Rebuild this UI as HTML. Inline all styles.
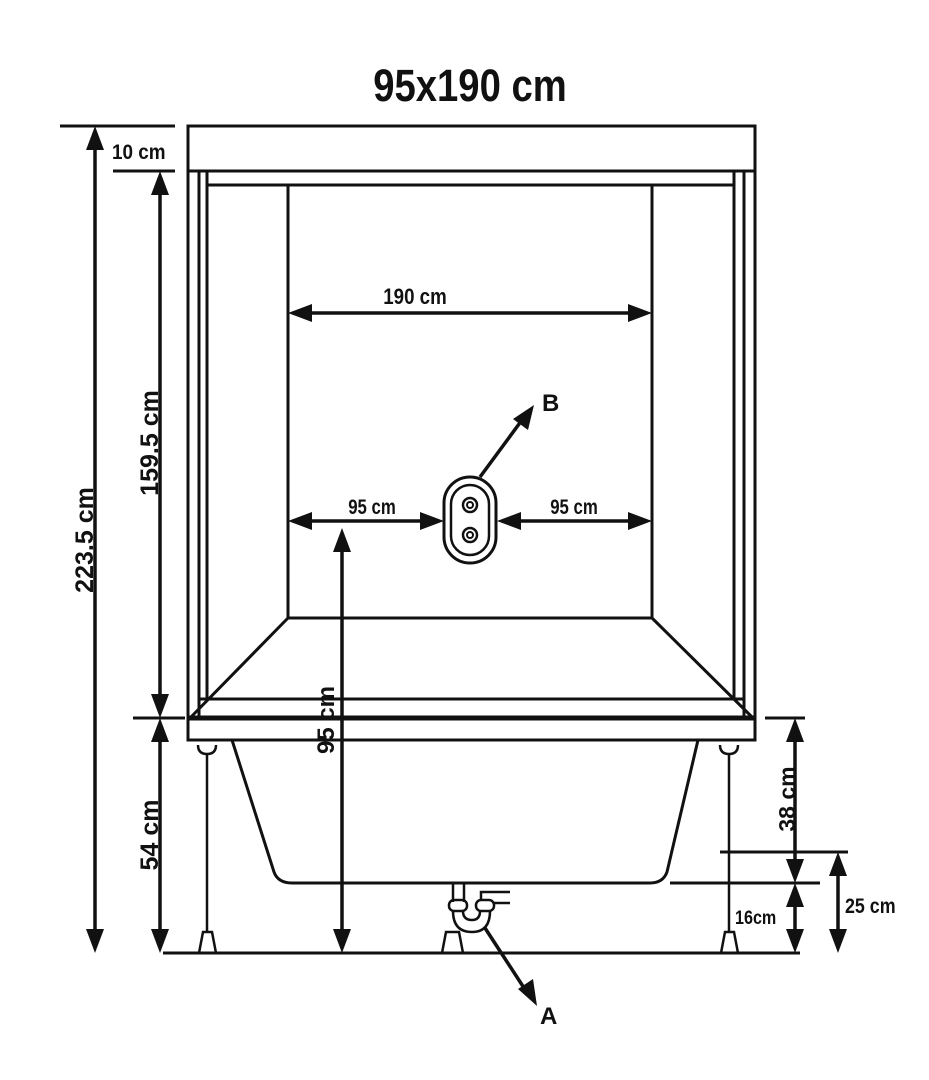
<!DOCTYPE html>
<html><head><meta charset="utf-8"><style>
html,body{margin:0;padding:0;background:#fff;}
svg{display:block;}
text{font-family:"Liberation Sans",sans-serif;font-weight:bold;fill:#111;}
</style></head><body>
<svg width="929" height="1080" viewBox="0 0 929 1080" xmlns="http://www.w3.org/2000/svg">
<g stroke="#111" fill="none" stroke-width="3">
<rect x="188" y="126" width="567" height="614"/>
<line x1="188" y1="171" x2="755" y2="171"/>
<line x1="207" y1="185" x2="734" y2="185"/>
<line x1="199" y1="171" x2="199" y2="718"/>
<line x1="207" y1="171" x2="207" y2="699"/>
<line x1="734" y1="171" x2="734" y2="699"/>
<line x1="744" y1="171" x2="744" y2="718"/>
<line x1="200" y1="699" x2="744" y2="699"/>
<line x1="188" y1="718" x2="755" y2="718" stroke-width="5"/>
<polyline points="288,185 288,618 652,618 652,185"/>
<line x1="288" y1="618" x2="190" y2="718"/>
<line x1="652" y1="618" x2="753" y2="718"/>
<path d="M232,740 L274,872 Q278,883 292,883 L650,883 Q663,883 667,872 L698,740"/>
<path d="M198,745 q0,9 9,9 q9,0 9,-9" stroke-width="2.5"/>
<path d="M720,745 q0,9 9,9 q9,0 9,-9" stroke-width="2.5"/>
<line x1="207" y1="754" x2="207" y2="932" stroke-width="2.5"/>
<line x1="729" y1="754" x2="729" y2="932" stroke-width="2.5"/>
<path d="M199,953 L203,932 L212,932 L216,953" stroke-width="2.5"/>
<path d="M721,953 L725,932 L734,932 L738,953" stroke-width="2.5"/>
<path d="M442,953 L446,932 L459,932 L463,953" stroke-width="2.5"/>
<g stroke-width="2.5">
<line x1="453" y1="883" x2="453" y2="902"/><line x1="464" y1="883" x2="464" y2="902"/>
<rect x="449" y="900" width="18" height="11" rx="5"/>
<rect x="476" y="900" width="18" height="11" rx="5"/>
<path d="M453,911 Q453,932 472,932 Q490,932 490,911"/>
<path d="M463,911 Q463,920 472,920 Q480,920 480,911"/>
<polyline points="481,900 481,892 510,892"/>
<line x1="494" y1="903" x2="510" y2="903"/>
</g>
<line x1="163" y1="953" x2="800" y2="953"/>
<line x1="60" y1="126" x2="175" y2="126"/>
<line x1="113" y1="171" x2="175" y2="171"/>
<line x1="133" y1="718" x2="185" y2="718"/>
<line x1="95" y1="145" x2="95" y2="935" stroke-width="3.5"/>
<line x1="160" y1="190" x2="160" y2="700" stroke-width="3.5"/>
<line x1="160" y1="736" x2="160" y2="935" stroke-width="3.5"/>
<line x1="305" y1="313" x2="635" y2="313" stroke-width="3.5"/>
<line x1="305" y1="521" x2="427" y2="521" stroke-width="3.5"/>
<line x1="514" y1="521" x2="635" y2="521" stroke-width="3.5"/>
<line x1="342" y1="545" x2="342" y2="935" stroke-width="3.5"/>
<rect x="444" y="477" width="52" height="86" rx="26"/>
<rect x="451" y="485" width="38" height="70" rx="19" stroke-width="2.5"/>
<circle cx="470" cy="505" r="7" stroke-width="2.5"/><circle cx="470" cy="505" r="3" stroke-width="2"/>
<circle cx="470" cy="535" r="7" stroke-width="2.5"/><circle cx="470" cy="535" r="3" stroke-width="2"/>
<line x1="480" y1="477" x2="522" y2="420" stroke-width="3.5"/>
<line x1="485" y1="928" x2="526" y2="991" stroke-width="3.5"/>
<line x1="765" y1="718" x2="805" y2="718"/>
<line x1="670" y1="883" x2="820" y2="883"/>
<line x1="720" y1="852" x2="848" y2="852"/>
<line x1="795" y1="736" x2="795" y2="866" stroke-width="3.5"/>
<line x1="795" y1="900" x2="795" y2="935" stroke-width="3.5"/>
<line x1="838" y1="870" x2="838" y2="935" stroke-width="3.5"/>
</g>
<g fill="#111">
<polygon points="95,126 86,150 104,150"/><polygon points="95,953 86,929 104,929"/>
<polygon points="160,171 151,195 169,195"/><polygon points="160,718 151,694 169,694"/>
<polygon points="160,718 151,742 169,742"/><polygon points="160,953 151,929 169,929"/>
<polygon points="288,313 312,304 312,322"/><polygon points="652,313 628,304 628,322"/>
<polygon points="288,521 312,512 312,530"/><polygon points="444,521 420,512 420,530"/>
<polygon points="497,521 521,512 521,530"/><polygon points="652,521 628,512 628,530"/>
<polygon points="342,528 333,552 351,552"/><polygon points="342,953 333,929 351,929"/>
<polygon points="534,405 528,430 513,419"/>
<polygon points="537,1006 518,989 533,979"/>
<polygon points="795,718 786,742 804,742"/><polygon points="795,883 786,859 804,859"/>
<polygon points="795,883 786,907 804,907"/><polygon points="795,953 786,929 804,929"/>
<polygon points="838,852 829,876 847,876"/><polygon points="838,953 829,929 847,929"/>
</g>
<text x="470" y="101" font-size="45" text-anchor="middle" transform="translate(470 0) scale(0.85 1) translate(-470 0)">95x190 cm</text>
<text x="112" y="159" font-size="21" transform="translate(112 0) scale(0.9 1) translate(-112 0)">10 cm</text>
<text x="415" y="304" font-size="22" text-anchor="middle" transform="translate(415 0) scale(0.85 1) translate(-415 0)">190 cm</text>
<text x="372" y="514" font-size="21" text-anchor="middle" transform="translate(372 0) scale(0.8 1) translate(-372 0)">95 cm</text>
<text x="574" y="514" font-size="21" text-anchor="middle" transform="translate(574 0) scale(0.8 1) translate(-574 0)">95 cm</text>
<text x="542" y="411" font-size="24">B</text>
<text x="540" y="1024" font-size="24">A</text>
<text font-size="25" text-anchor="middle" transform="translate(93 540) rotate(-90)">223.5 cm</text>
<text font-size="25" text-anchor="middle" transform="translate(158 443) rotate(-90)">159.5 cm</text>
<text font-size="25" text-anchor="middle" transform="translate(158 835) rotate(-90)">54 cm</text>
<text font-size="24" text-anchor="middle" transform="translate(334 720) rotate(-90)">95 cm</text>
<text font-size="23" text-anchor="middle" transform="translate(795 799) rotate(-90)">38 cm</text>
<text x="735" y="924" font-size="19" transform="translate(735 0) scale(0.85 1) translate(-735 0)">16cm</text>
<text x="845" y="913" font-size="21" transform="translate(845 0) scale(0.85 1) translate(-845 0)">25 cm</text>
</svg>
</body></html>
